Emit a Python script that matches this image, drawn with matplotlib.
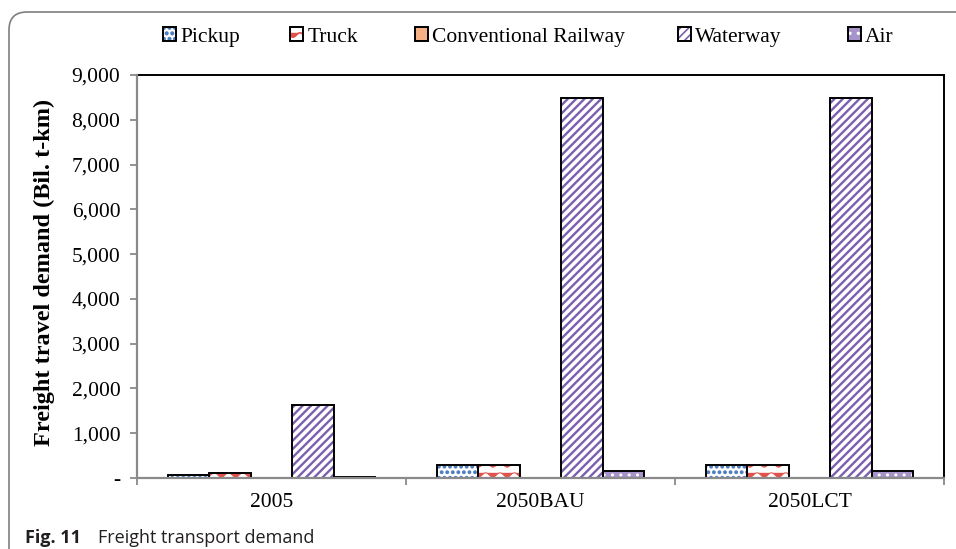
import numpy as np
import matplotlib
matplotlib.use("Agg")
import matplotlib.pyplot as plt
import matplotlib.hatch as mhatch
from matplotlib.patches import Patch, FancyBboxPatch
from matplotlib.transforms import IdentityTransform
from matplotlib.ticker import FuncFormatter, FixedLocator

# ---------------- data ----------------
categories = ["2005", "2050BAU", "2050LCT"]
series_names = ["Pickup", "Truck", "Conventional Railway", "Waterway", "Air"]
pickup = [60, 290, 290]
truck = [105, 295, 295]
conventional_railway = [0, 0, 0]
waterway = [1630, 8480, 8480]
air = [30, 155, 155]
yticks = [0, 1000, 2000, 3000, 4000, 5000, 6000, 7000, 8000, 9000]


# ---------------- custom hatches ----------------
class WaveHatch(mhatch.HatchPatternBase):
    """Wavy horizontal lines, triggered by 'O'."""
    def __init__(self, hatch, density):
        self.num_rows = hatch.count('O') * 5
        self.periods = 7
        self.pts = self.periods * 12 + 1
        self.num_vertices = self.num_rows * self.pts

    def set_vertices_and_codes(self, vertices, codes):
        if self.num_rows == 0:
            return
        x = np.linspace(0, 1, self.pts)
        amp = 0.22 / self.num_rows
        for i in range(self.num_rows):
            yc = (i + 0.5) / self.num_rows
            s = slice(i * self.pts, (i + 1) * self.pts)
            vertices[s, 0] = x
            vertices[s, 1] = yc + amp * np.cos(2 * np.pi * self.periods * x)
            codes[s] = matplotlib.path.Path.LINETO
            codes[i * self.pts] = matplotlib.path.Path.MOVETO


class BigDots(mhatch.Circles):
    size = 0.22
    filled = True

    def __init__(self, hatch, density):
        self.num_rows = hatch.count('*') * density
        super().__init__(hatch, density)


new_types = []
for t in mhatch._hatch_types:
    if t is mhatch.LargeCircles:
        new_types.append(WaveHatch)
    elif t is mhatch.Stars:
        new_types.append(BigDots)
    else:
        new_types.append(t)
mhatch._hatch_types = new_types

plt.rcParams['font.family'] = ['Liberation Serif', 'DejaVu Serif']
plt.rcParams['hatch.linewidth'] = 1.2

styles = [
    dict(face="white", hcol="#4f7fc0", hatch="***", hlw=1.0),
    dict(face="white", hcol="#e0524c", hatch="OO", hlw=0.7),
    dict(face="#f5b183", hcol="#f5b183", hatch=None, hlw=1.0),
    dict(face="white", hcol="#7b5fae", hatch="////", hlw=1.7),
    dict(face="#a593c9", hcol="white", hatch="..", hlw=1.0),
]
values = [pickup, truck, conventional_railway, waterway, air]

W, H = 956, 549
fig = plt.figure(figsize=(W / 100, H / 100), dpi=100)
ax = fig.add_axes([137 / W, 1 - 478 / H, (944 - 137) / W, (478 - 75) / H])

n = len(series_names)
bw = 1 / (n + 1.5)
xc = np.arange(len(categories))
handles = []
for i, (name, vals, st) in enumerate(zip(series_names, values, styles)):
    xs = xc + (i - (n - 1) / 2) * bw
    b1 = ax.bar(xs, vals, bw, color=st["face"], edgecolor=st["hcol"],
                hatch=st["hatch"], linewidth=0, zorder=2)
    for p in b1:
        if hasattr(p, "set_hatch_linewidth"):
            p.set_hatch_linewidth(st["hlw"])
    ax.bar(xs, vals, bw, fill=False, edgecolor="black", linewidth=1.4, zorder=3)
    h1 = Patch(facecolor=st["face"], edgecolor=st["hcol"], hatch=st["hatch"], linewidth=0)
    if hasattr(h1, "set_hatch_linewidth"):
        h1.set_hatch_linewidth(st["hlw"])
    h2 = Patch(fill=False, edgecolor="black", linewidth=1.4)
    handles.append((h1, h2))

ax.set_xlim(-0.5, len(categories) - 0.5)
ax.set_ylim(0, 9000)
ax.yaxis.set_major_locator(FixedLocator(yticks))
ax.yaxis.set_major_formatter(FuncFormatter(lambda v, p: "-" if v == 0 else f"{int(v):,}"))

ax.xaxis.set_major_locator(FixedLocator(np.arange(len(categories) + 1) - 0.5))
ax.xaxis.set_major_formatter(FuncFormatter(lambda v, p: ""))
ax.xaxis.set_minor_locator(FixedLocator(xc))
ax.set_xticks(xc, categories, minor=True)
ax.tick_params(axis='x', which='minor', length=0, pad=11, labelsize=15.5)
ax.tick_params(axis='x', which='major', length=5, width=1.3, color="#8a8a8a", direction='out')
ax.tick_params(axis='y', length=5, width=1.3, color="#8a8a8a", direction='out', pad=7, labelsize=15.5)

for s in ["top", "right"]:
    ax.spines[s].set_color("black")
    ax.spines[s].set_linewidth(1.4)
for s in ["left", "bottom"]:
    ax.spines[s].set_color("#8a8a8a")
    ax.spines[s].set_linewidth(1.6)
    ax.spines[s].set_zorder(4)

ax.set_ylabel("Freight travel demand (Bil. t-km)", fontsize=17.5, fontweight="bold")
ax.yaxis.set_label_coords(-0.101, 0.51)

# legend entries placed individually
leg_x = [163, 290, 415, 678, 848]
for hx, h, name in zip(leg_x, handles, series_names):
    fig.legend([h], [name], loc="center left", bbox_to_anchor=(hx / W, 1 - 37 / H),
               frameon=False, borderpad=0, borderaxespad=0, handlelength=0.6,
               handleheight=0.6, handletextpad=0.2, fontsize=15.5)

# caption
fig.text(25 / W, 1 - 543 / H, "Fig. 11", fontsize=13, fontweight="bold",
         family=["Open Sans", "DejaVu Sans"], va="baseline", color="#231f20")
fig.text(98 / W, 1 - 543 / H, "Freight transport demand", fontsize=13,
         family=["Open Sans", "DejaVu Sans"], va="baseline", color="#231f20")

# outer rounded frame
frame = FancyBboxPatch((9, -60), 1100, H - 12 + 60,
                       boxstyle="round,pad=0,rounding_size=18",
                       transform=IdentityTransform(), fill=False,
                       edgecolor="#7f7f7f", linewidth=1.2)
fig.add_artist(frame)

fig.savefig("out.png", dpi=100)
